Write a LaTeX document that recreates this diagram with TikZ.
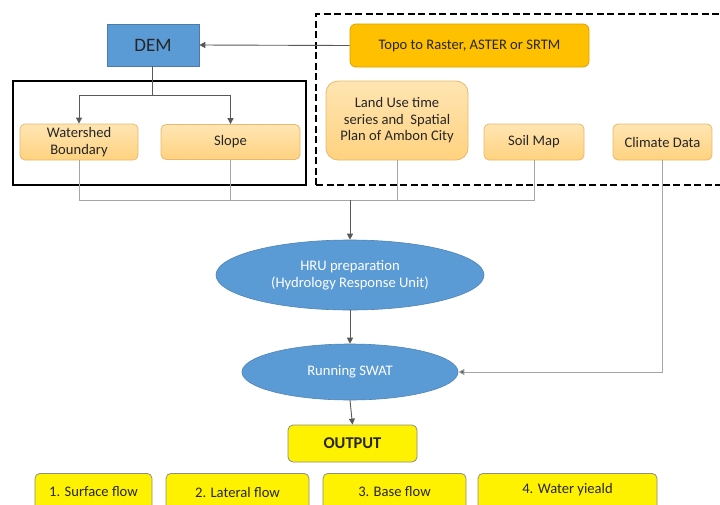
\documentclass[tikz,border=0pt]{standalone}
\usepackage{fontspec}
\setmainfont{Carlito}
\usetikzlibrary{shapes.geometric,arrows.meta}
\definecolor{txt}{HTML}{262626}
\definecolor{demblue}{HTML}{5B9BD5}
\definecolor{topo}{HTML}{FFC000}
\definecolor{peachtop}{HTML}{FFE5B3}
\definecolor{peachbot}{HTML}{FFD27F}
\definecolor{peachline}{HTML}{E8B96A}
\definecolor{lnk}{HTML}{A5A5A5}
\definecolor{arr}{HTML}{595959}
\tikzset{
  font=\fontsize{14.6}{16.5}\selectfont,
  peach/.style={draw=peachline, line width=0.8pt, rounded corners=5pt,
    top color=peachtop, bottom color=peachbot, text=txt, align=center,
    inner sep=0pt},
  hru/.style={ellipse, draw=demblue!85!black, line width=0.6pt, fill=demblue,
    text=white, align=center, inner sep=0pt},
  outbox/.style={draw=black!45, line width=0.8pt, rounded corners=5pt,
    fill=yellow, text=txt, align=center, inner sep=0pt},
  link/.style={draw=lnk, line width=0.9pt},
  flow/.style={draw=arr, line width=0.9pt, -{Triangle[length=6pt,width=6pt]}},
}
\begin{document}
\begin{tikzpicture}[x=1pt,y=-1pt]
\useasboundingbox (0,0) rectangle (720,504);
\fill[white] (0,0) rectangle (720,504);

% grouping frames
\draw[line width=2.6pt] (13,81) rectangle (306,185);
\draw[line width=2.6pt, dash pattern=on 7pt off 3.5pt] (316,185) -- (316,14) -- (726,14);
\draw[line width=2.6pt, dash pattern=on 7pt off 3.5pt] (316,185) -- (726,185);

% input nodes
\node[draw=demblue!80!black, line width=0.6pt, fill=demblue, text=txt,
      minimum width=92pt, minimum height=42pt, inner sep=0pt,
      font=\fontsize{19}{21}\selectfont] (dem) at (153,45) {DEM};
\node[draw=topo!85!black, line width=0.8pt, rounded corners=6pt, fill=topo,
      text=txt, minimum width=239pt, minimum height=43pt, inner sep=0pt] (topo) at (469.5,45.5) {Topo to Raster, ASTER or SRTM};

\node[peach, minimum width=118pt, minimum height=36pt] (ws) at (79,142) {Watershed\\Boundary};
\node[peach, minimum width=139pt, minimum height=35pt] (slope) at (230.5,142) {Slope};
\node[peach, rounded corners=12pt, minimum width=142pt, minimum height=79pt] (lu) at (397,120.5) {Land Use time\\series and~ Spatial\\Plan of Ambon City};
\node[peach, minimum width=100pt, minimum height=36pt] (soil) at (534,142) {Soil Map};
\node[peach, minimum width=99pt, minimum height=36pt] (clim) at (662.5,142) {Climate Data};

% processing nodes
\node[hru, minimum width=268pt, minimum height=70pt] (hru) at (350,275) {HRU preparation\\(Hydrology Response Unit)};
\node[hru, minimum width=216pt, minimum height=56pt] (swat) at (350,372) {Running SWAT};

% outputs
\node[outbox, minimum width=129pt, minimum height=37pt,
      font=\fontsize{16.5}{18}\selectfont\bfseries] (out) at (352.5,443.5) {OUTPUT};
\node[outbox, minimum width=117pt, minimum height=44pt, anchor=north] (o1) at (93.5,473) {};
\node[outbox, minimum width=143pt, minimum height=44pt, anchor=north] (o2) at (237.5,473) {};
\node[outbox, minimum width=143pt, minimum height=44pt, anchor=north] (o3) at (394.5,473) {};
\node[outbox, minimum width=179pt, minimum height=44pt, anchor=north] (o4) at (567.5,473) {};
\node[text=txt] at (93.5,492) {1. Surface flow};
\node[text=txt] at (237.5,492) {2. Lateral flow};
\node[text=txt] at (394.5,492) {3. Base flow};
\node[text=txt] at (567.5,490) {4. Water yieald};

% DEM source and derived layers
\draw[flow] (topo.west) -- (dem.east);
\coordinate (split) at (152,95);
\draw[draw=arr, line width=0.9pt] (dem.south -| split) -- (split);
\draw[flow] (split) -| (ws.north);
\draw[flow] (split) -| (slope.north);

% layers merged into HRU preparation
\coordinate (bus) at (350,200);
\draw[link] (ws.south) |- (soil.south |- bus) -- (soil.south);
\draw[link] (slope.south) -- (slope.south |- bus);
\draw[link] (lu.south) -- (lu.south |- bus);
\draw[flow] (bus) -- (hru.north);

% model run and output
\draw[flow] (hru.south) -- (swat.north);
\draw[link, -{Triangle[length=6pt,width=6pt,fill=arr]}] (clim.south) |- (swat.east);
\draw[flow] (swat.south) -- (out.north);
\end{tikzpicture}
\end{document}
